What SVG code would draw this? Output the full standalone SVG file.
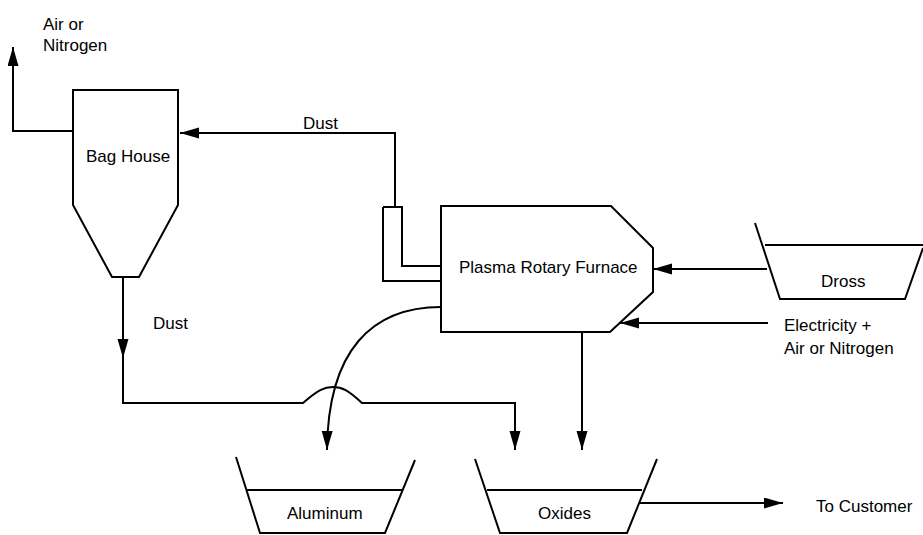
<svg xmlns="http://www.w3.org/2000/svg" width="923" height="535" viewBox="0 0 923 535">
<defs>
<marker id="arr" markerUnits="userSpaceOnUse" markerWidth="20" markerHeight="12" refX="19" refY="5.5" orient="auto">
<path d="M0,0 L19,5.5 L0,11 Z" fill="#000"/>
</marker>
<style>
.ln{fill:none;stroke:#000;stroke-width:2}
.sh{fill:#fff;stroke:#000;stroke-width:2}
.t{font-family:"Liberation Sans",Arial,sans-serif;font-size:17px;fill:#000}
</style>
</defs>
<rect width="923" height="535" fill="#fff"/>
<g id="connectors">
<path class="ln" d="M73,131 H13 V47" marker-end="url(#arr)"/>
<path class="ln" d="M395,207 V133 H180" marker-end="url(#arr)"/>
<path class="ln" d="M123,277 V358" marker-end="url(#arr)"/>
<path class="ln" d="M123,356 V403 H303 C318,390 324,387 333,387 C342,387 348,390 362,403 H515 V450" marker-end="url(#arr)"/>
<path class="ln" d="M441,307 C372,307 328,350 327,450" marker-end="url(#arr)"/>
<path class="ln" d="M582,332 V450" marker-end="url(#arr)"/>
<path class="ln" d="M767,269 H653" marker-end="url(#arr)"/>
<path class="ln" d="M768,323 H620" marker-end="url(#arr)"/>
<path class="ln" d="M639,503 H783" marker-end="url(#arr)"/>
</g>
<g id="bag-house">
<path class="sh" d="M73,90 H178 V205 L139,277 H112 L73,205 Z"/>
<text class="t" x="86" y="162">Bag House</text>
</g>
<g id="duct">
<path class="ln" d="M383,207 H402 V266 H442 M383,207 V281 H442"/>
</g>
<g id="furnace">
<path class="sh" d="M441,206 H611 L653,248 V292 L610,332 H441 Z"/>
<text class="t" x="459" y="273">Plasma Rotary Furnace</text>
</g>
<g id="dross">
<path class="ln" d="M755,223 L780,299 H905 L923,248"/>
<path class="ln" d="M765,245 H923" stroke-width="3.5"/>
<text class="t" x="821" y="287">Dross</text>
</g>
<g id="aluminum">
<path class="ln" d="M236,457 L260,533 H385 L415,460"/>
<path class="ln" d="M247,490 H403"/>
<text class="t" x="287" y="519">Aluminum</text>
</g>
<g id="oxides">
<path class="ln" d="M475,459 L500,533 H627 L657,459"/>
<path class="ln" d="M487,490 H642"/>
<text class="t" x="538" y="519">Oxides</text>
</g>
<g id="labels">
<text class="t" x="43" y="30">Air or</text>
<text class="t" x="43" y="51">Nitrogen</text>
<text class="t" x="303" y="129">Dust</text>
<text class="t" x="153" y="329">Dust</text>
<text class="t" x="784" y="331">Electricity +</text>
<text class="t" x="784" y="354">Air or Nitrogen</text>
<text class="t" x="816" y="512">To Customer</text>
</g>
</svg>
